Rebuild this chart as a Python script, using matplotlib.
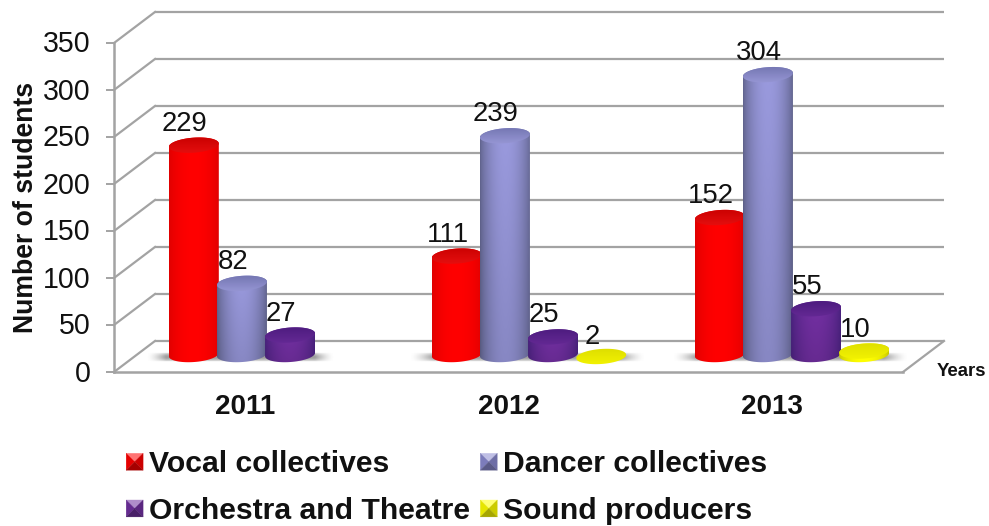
import numpy as np
import matplotlib
matplotlib.use("Agg")
import matplotlib.pyplot as plt
from matplotlib.path import Path
from matplotlib.patches import Polygon, Patch
from matplotlib.legend_handler import HandlerBase
from matplotlib.transforms import ScaledTranslation

plt.rcParams['font.family'] = ['Liberation Sans', 'DejaVu Sans']

years = ['2011', '2012', '2013']
series = ['Vocal collectives', 'Dancer collectives', 'Orchestra and Theatre', 'Sound producers']
vocal = [229, 111, 152]
dancer = [82, 239, 304]
orchestra = [27, 25, 55]
sound = [None, 2, 10]
yticks = [0, 50, 100, 150, 200, 250, 300, 350]

mid_colors = ['#ff0000', '#9a9ade', '#7430a4', '#ffff00']
edge_colors = ['#e00000', '#62658f', '#4a2280', '#c8c800']
cap_dark = ['#c80000', '#7072ae', '#4a1a7c', '#dcdc00']
cap_light = ['#e81010', '#9a9ad8', '#662a96', '#f4f400']
grid_col = '#a3a3a3'

fig = plt.figure(figsize=(9.89, 5.26), dpi=100)
ax = fig.add_axes([114/989, (526-372)/526, 789/989, 329/526])
ax.set_xlim(-0.5, 2.5)
ax.set_ylim(0, 350)

# depth of the 3d box, in data units
depth_x = 41/263
depth_y = 33
step = 0.183
rx = 25/263
ry = 8
skew = 1.8

# walls and floor
for y in yticks:
    ax.plot([-0.5 + depth_x, 2.5 + depth_x], [y + depth_y, y + depth_y], color=grid_col, lw=1.6, zorder=1, clip_on=False, solid_capstyle='butt')
    ax.plot([-0.5, -0.5 + depth_x], [y, y + depth_y], color=grid_col, lw=1.6, zorder=1, clip_on=False)
ax.plot([2.5, 2.5 + depth_x], [0, depth_y], color=grid_col, lw=1.6, zorder=1.6, clip_on=False)


def rgb(c):
    return np.array(matplotlib.colors.to_rgb(c))


def ell_pts(cx, cy, a, b):
    t = np.linspace(a, b, 60)
    return np.c_[cx + rx*np.cos(t), cy + ry*np.sin(t) + skew*np.cos(t)]


def paint(arr, x0, x1, y0, y1, clip, z):
    im = ax.imshow(arr, extent=(x0, x1, y0, y1), aspect='auto', origin='upper', interpolation='bilinear', zorder=z)
    im.set_clip_box(fig.bbox)
    if clip is not None:
        im.set_clip_path(Path(clip), ax.transData)


def cylinder(cx, value, i, z):
    top = max(value + 12.3, 16.5)
    base = 18.6
    u = np.linspace(0, 1, 64)
    w = np.sin(np.pi*u)**0.7
    row = rgb(edge_colors[i])[None, :]*(1 - w[:, None]) + rgb(mid_colors[i])[None, :]*w[:, None]
    if top > base:
        body = np.r_[ell_pts(cx, base, np.pi, 2*np.pi), ell_pts(cx, top, 0, np.pi)]
        fade = np.linspace(1, 0.88 if i in (1, 2) else 1, 24)[:, None, None]
        arr = row[None, :, :]*fade
        paint(arr, cx - rx, cx + rx, base - ry - 3, top + ry + 3, body, z)
    cap = ell_pts(cx, top, 0, 2*np.pi)
    v = np.linspace(0, 1, 24)[:, None, None]
    arr = (rgb(cap_dark[i])*(1 - v) + rgb(cap_light[i])*v)*np.ones((24, 2, 3))
    paint(arr, cx - rx, cx + rx, top - ry - 3, top + ry + 3, cap, z + 0.1)


def shadow(x0, x1, z):
    u = np.linspace(0, 1, 80)
    v = np.linspace(0, 1, 12)
    a = np.clip(np.minimum(u, 1 - u)/0.1, 0, 1)**1.5
    b = np.sin(np.pi*v)**0.8
    arr = np.ones((12, 80, 4))*0.45
    arr[:, :, 3] = np.outer(b, a)*0.7
    paint(arr, x0, x1, 11, 21, None, z)


data = [vocal, dancer, orchestra, sound]
for g in range(len(years)):
    xs = [g + (i - 1.5)*step + 20.5/263 for i in range(4) if data[i][g] is not None]
    shadow(min(xs) - rx - 0.085, max(xs) + rx + 0.075, 2)
    for i in range(4):
        val = data[i][g]
        if val is None:
            continue
        cx = g + (i - 1.5)*step + 20.5/263
        cylinder(cx, val, i, 3 + i)
        ax.annotate(str(val), (cx, val + 12.3), xytext=(-6.5, 15.5), textcoords='offset points', ha='center', va='center', fontsize=19.8, color='#111111', zorder=20, annotation_clip=False)

ax.set_xlim(-0.5, 2.5)
ax.set_ylim(0, 350)
ax.set_xticks(range(3))
ax.set_xticklabels(years, fontsize=20, fontweight='bold', color='#111111')
ax.tick_params(axis='x', length=0, pad=16)
ax.set_yticks(yticks)
ax.tick_params(axis='y', length=5.8, width=1.4, color=grid_col, pad=11, labelsize=20.6, labelcolor='#111111')
for lab in ax.get_yticklabels():
    lab.set_transform(lab.get_transform() + ScaledTranslation(0, 1.5/100, fig.dpi_scale_trans))
ax.set_ylabel('Number of students', fontsize=19.2, fontweight='bold', labelpad=2.5, color='#111111')
ax.patch.set_alpha(0)
for s in ['top', 'right']:
    ax.spines[s].set_visible(False)
for s in ['left', 'bottom']:
    ax.spines[s].set_color(grid_col)
    ax.spines[s].set_linewidth(1.8)
    ax.spines[s].set_zorder(15)

fig.text(937/989, 1 - 372/526, 'Years', fontsize=13.4, fontweight='bold', color='#111111', ha='left', va='center')


class BevelHandler(HandlerBase):
    def create_artists(self, legend, orig, xd, yd, w, h, fontsize, trans):
        s = 12.2
        x0 = w - s - xd
        y0 = (h - s)/2 - yd
        c = (x0 + s/2, y0 + s/2)
        base = rgb(orig.get_facecolor()[:3])
        tl, tr, bl, br = (x0, y0 + s), (x0 + s, y0 + s), (x0, y0), (x0 + s, y0)
        faces = [([tl, tr, c], base*0.55 + 0.45), ([tl, bl, c], base*0.9), ([tr, br, c], base*0.8), ([bl, br, c], base*0.65)]
        arts = [Polygon(p, closed=True, fc=col, ec=col, lw=0.2, transform=trans) for p, col in faces]
        return arts


legend_cols = ['#ff0000', '#8a8ad0', '#7030a0', '#ffff00']
# legend fills column by column, reference reads row by row
order = [0, 2, 1, 3]
handles = [Patch(facecolor=legend_cols[k], label=series[k]) for k in order]
leg = fig.legend(handles=handles, ncol=2, loc='lower left', bbox_to_anchor=(119/989, 1/526), frameon=False, prop={'size': 21.7, 'weight': 'bold'},
                 handler_map={Patch: BevelHandler()}, handlelength=0.8, handletextpad=0.2, columnspacing=0.1, labelspacing=0.62, borderpad=0, borderaxespad=0)
for t in leg.get_texts():
    t.set_color('#111111')

fig.savefig('out.png', dpi=100)
